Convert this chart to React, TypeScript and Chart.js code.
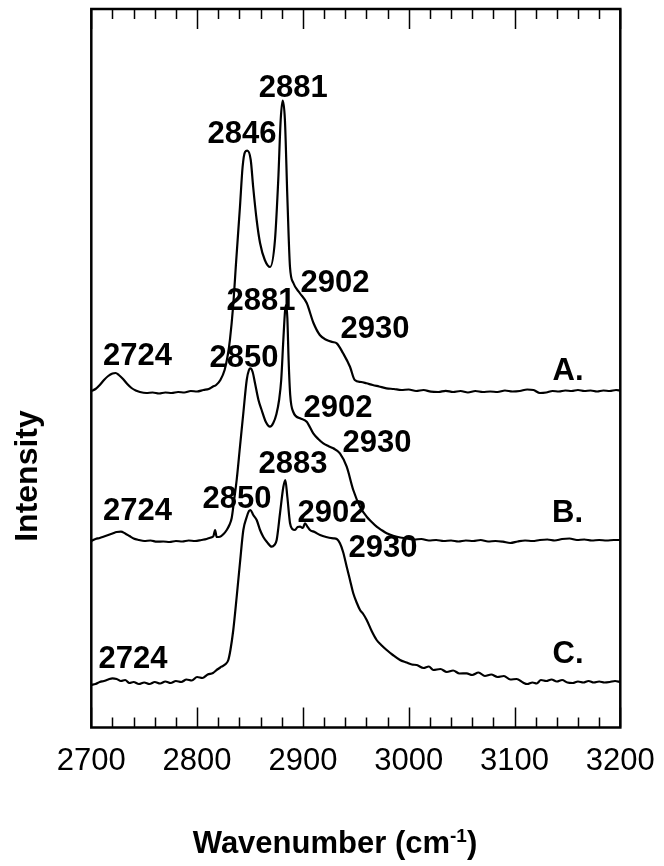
import React, { useEffect, useRef } from "react";
import { Chart, registerables } from "chart.js";

Chart.register(...registerables);

// ---- Spectrum A ----
const wnA = [2700, 2704, 2708, 2712, 2716, 2720, 2723, 2726, 2730, 2734, 2738, 2742, 2746, 2752, 2758, 2764, 2770, 2776, 2782, 2788, 2794, 2800, 2806, 2811, 2815, 2818, 2822, 2826, 2829, 2831, 2834, 2837, 2840.5, 2843, 2845.3, 2847.4, 2850.7, 2853, 2856.3, 2859.5, 2864, 2869, 2873.6, 2876.7, 2879, 2880.9, 2883, 2885.3, 2887.8, 2891, 2897, 2903.6, 2910, 2916, 2922.5, 2928, 2932, 2938, 2944.5, 2949, 2955, 2960, 2966, 2972, 2979, 2986, 2993, 3000, 3007, 3014, 3021, 3028, 3035, 3042, 3049, 3056, 3063, 3070, 3077, 3084, 3091, 3098, 3105, 3112, 3118, 3124, 3130, 3136, 3142, 3148, 3154, 3160, 3166, 3172, 3178, 3184, 3190, 3196, 3200];
const intA = [0, 2, 6, 11, 15, 17.5, 18, 16, 12, 7, 3, 0.5, -1, -2, -1.5, -2.5, -1.5, -2, -1, -1.5, 0, -0.5, 1, 2, 4.5, 6, 11, 21, 36, 51, 84, 131, 184, 224, 239, 240.3, 231, 204, 171, 148, 131, 124, 151, 211, 271, 290.3, 271, 194, 124, 108, 98, 88, 68, 56, 51, 49, 47.7, 37.7, 24.3, 11, 9, 7.7, 6, 4.5, 2.7, 2, 1, 1.5, 0, 1, -0.7, -1, 0.2, -1, 0, -1.5, 0, -1, -0.5, -1, 0.5, -0.5, 0, 1.5, 1, -2, -1.5, 0, -0.5, 0.5, 0, 1, 0, 0.5, -0.5, 0.5, 0, 1, 0.5];

// ---- Spectrum B ----
const wnB = [2700, 2704, 2708, 2712, 2716, 2720, 2724, 2728, 2732, 2736, 2740, 2745, 2750, 2756, 2762, 2768, 2774, 2780, 2786, 2792, 2798, 2804, 2809, 2813, 2815.5, 2817, 2818.5, 2821.6, 2825, 2828, 2830.5, 2832.7, 2835, 2837.4, 2840.5, 2843.7, 2846.9, 2849, 2850.5, 2852.5, 2854.7, 2858, 2861, 2865, 2868.9, 2872, 2875, 2877.5, 2879.5, 2881.5, 2883.2, 2884.2, 2885.3, 2886.5, 2888, 2890.9, 2897.3, 2903.6, 2909.8, 2914.5, 2919.3, 2924, 2928.7, 2935, 2941.4, 2947.6, 2954, 2960.3, 2965, 2969.7, 2975, 2979.2, 2986, 2992, 2998, 3005, 3012, 3019, 3026, 3033, 3040, 3047, 3054, 3061, 3068, 3075, 3082, 3089, 3096, 3103, 3110, 3117, 3124, 3131, 3138, 3145, 3152, 3159, 3166, 3173, 3180, 3187, 3194, 3200];
const intB = [-1, 1, 2, 3.5, 5, 6.5, 8, 8.3, 6.5, 4, 1.5, 0, -1, -0.5, -1.7, -1.5, -2, -1, -1.5, -0.5, -1, 0, 1, 2.5, 4, 10, 3, 3.3, 6, 10, 15, 22, 40, 60, 93, 127, 160, 170, 171.7, 168, 157, 140, 130, 118, 113.3, 117, 126, 140, 160, 200, 230, 235, 222, 180, 145, 128, 121.7, 118.3, 106.7, 101, 96.7, 94, 91.7, 86.7, 73.3, 50, 33.3, 23.3, 18, 13.3, 9.5, 6.7, 4, 2.5, 1.7, 0.5, 1, -0.5, 0, -1, -0.5, -1.5, -0.5, -1, 0, -1.5, -1, -1.7, -3, -1.5, -0.5, -1, 0, 0.5, -0.5, 1, 1.5, 0, 0.5, -0.5, 0, -0.5, 0, 0];

// ---- Spectrum C ----
const wnC = [2700, 2704, 2708, 2712, 2716, 2720, 2724, 2728, 2732, 2736, 2740, 2745, 2750, 2755, 2760, 2765, 2770, 2775, 2780, 2785, 2790, 2795, 2800, 2805, 2810, 2815, 2819, 2823, 2827, 2829.5, 2831.5, 2834.2, 2837.4, 2840.5, 2843.7, 2846.9, 2849, 2850.5, 2853.1, 2856.3, 2859.5, 2862.6, 2866, 2870.5, 2873, 2875.2, 2878.4, 2881.5, 2883.4, 2885.3, 2887.8, 2890, 2892.5, 2895, 2897.3, 2900, 2902, 2904.5, 2906.7, 2911, 2916.2, 2922, 2928.7, 2932, 2935, 2938, 2941.4, 2944.5, 2947.6, 2951, 2954, 2957, 2960.3, 2965, 2969.7, 2974, 2979.2, 2985, 2991.8, 2998, 3003, 3007.6, 3014, 3019, 3023.3, 3030, 3036, 3042, 3048, 3054.8, 3060, 3066, 3072, 3078, 3084, 3090, 3096, 3102, 3108, 3112, 3117, 3121, 3125, 3130, 3135, 3140, 3145, 3150, 3155, 3160, 3165, 3170, 3175, 3180, 3185, 3190, 3195, 3200];
const intC = [-5, -4, -2, -1, 0.5, 1.7, 1, -1, 0, -3, -2, -4, -2.5, -4, -2, -3.5, -1.5, -3, -1, -2, 0.5, -0.5, 3, 2, 5.5, 7, 10.5, 13.3, 16, 20, 30, 50, 83, 117, 150, 163, 169, 170, 165, 160, 150, 143, 138, 133.3, 135, 140, 167, 193, 200, 183, 157, 151, 150, 153, 153.3, 152, 156.7, 153, 150, 148, 145, 143, 141.7, 141, 136.7, 128, 113.3, 100, 86.7, 77, 70, 66, 60, 49, 40, 35, 30, 25, 20, 17.5, 15.5, 15, 12, 13.5, 10, 11, 8, 9.5, 6.5, 6.7, 5, 7.5, 4, 5.5, 3, 4, 0.5, 1, -2.5, -4, -2.5, -3.5, 0, -1, 0.5, -1.5, 0, -2.5, -3, -1.5, -2.5, -1, -2.5, -1.5, -2.5, -2, -1, -2];

// vertical offsets used to stack the spectra
const offsetA = 336.5;
const offsetB = 187.5;
const offsetC = 47.5;

const xMin = 2700;
const xMax = 3200;
const yMin = 0;
const yMax = 718.5;
const xMajorTicks = [2700, 2800, 2900, 3000, 3100, 3200];
const xMinorStep = 20;

const peakLabels = [
  { text: "2881", x: 2890.9, y: 631 },
  { text: "2846", x: 2842.4, y: 584.5 },
  { text: "2902", x: 2930.3, y: 435.5 },
  { text: "2930", x: 2968.1, y: 389.5 },
  { text: "2724", x: 2743.7, y: 362.5 },
  { text: "A.", x: 3150.6, y: 347.5 },
  { text: "2881", x: 2860.4, y: 417.5 },
  { text: "2850", x: 2844.3, y: 360.5 },
  { text: "2902", x: 2933.2, y: 310.5 },
  { text: "2930", x: 2970.0, y: 275.5 },
  { text: "2724", x: 2743.7, y: 207.5 },
  { text: "B.", x: 3150.1, y: 205.5 },
  { text: "2883", x: 2890.6, y: 254.5 },
  { text: "2850", x: 2837.7, y: 219.5 },
  { text: "2902", x: 2927.5, y: 205.5 },
  { text: "2930", x: 2975.7, y: 170.5 },
  { text: "2724", x: 2739.4, y: 59.5 },
  { text: "C.", x: 3150.6, y: 64.5 },
];

const FONT = '"Liberation Sans", Arial, Helvetica, sans-serif';

const W = 664;
const H = 866;

function toPoints(wn: number[], inten: number[], offset: number) {
  return wn.map((x, i) => ({ x, y: inten[i] + offset }));
}

const framePlugin = {
  id: "framePlugin",
  afterDraw(chart: any) {
    const { ctx, chartArea, scales } = chart;
    const xs = scales.x;
    const ys = scales.y;
    const { left, right, top, bottom } = chartArea;
    ctx.save();
    ctx.strokeStyle = "#000";
    ctx.fillStyle = "#000";

    // ticks
    ctx.lineWidth = 1.5;
    for (let v = xMin; v <= xMax + 0.001; v += xMinorStep) {
      const px = Math.round(xs.getPixelForValue(v)) + 0.5;
      const major = xMajorTicks.includes(v);
      const len = major ? 20 : 10;
      ctx.beginPath();
      ctx.moveTo(px, bottom);
      ctx.lineTo(px, bottom - len);
      ctx.moveTo(px, top);
      ctx.lineTo(px, top + len);
      ctx.stroke();
    }

    // frame
    ctx.lineWidth = 2.5;
    ctx.strokeRect(left, top, right - left, bottom - top);

    // tick labels
    ctx.font = `31px ${FONT}`;
    ctx.textAlign = "center";
    ctx.textBaseline = "alphabetic";
    xMajorTicks.forEach((v) => {
      ctx.fillText(String(v), xs.getPixelForValue(v), 770);
    });

    // peak annotations
    ctx.font = `bold 31px ${FONT}`;
    peakLabels.forEach((l) => {
      ctx.fillText(l.text, xs.getPixelForValue(l.x), ys.getPixelForValue(l.y));
    });

    // x title with superscript
    const big = `bold 31px ${FONT}`;
    const small = `bold 19px ${FONT}`;
    const p1 = "Wavenumber (cm";
    const p2 = "-1";
    const p3 = ")";
    ctx.font = big;
    const w1 = ctx.measureText(p1).width;
    const w3 = ctx.measureText(p3).width;
    ctx.font = small;
    const w2 = ctx.measureText(p2).width;
    const total = w1 + w2 + w3;
    let sx = 335 - total / 2;
    ctx.textAlign = "left";
    ctx.font = big;
    ctx.fillText(p1, sx, 853);
    sx += w1;
    ctx.font = small;
    ctx.fillText(p2, sx, 842);
    sx += w2;
    ctx.font = big;
    ctx.fillText(p3, sx, 853);

    // y title
    ctx.save();
    ctx.translate(36.5, 476);
    ctx.rotate(-Math.PI / 2);
    ctx.textAlign = "center";
    ctx.font = `bold 32px ${FONT}`;
    ctx.fillText("Intensity", 0, 0);
    ctx.restore();

    ctx.restore();
  },
};

export default function App() {
  const ref = useRef<HTMLCanvasElement | null>(null);

  useEffect(() => {
    if (!ref.current) return;
    const lineStyle = {
      borderColor: "#000",
      borderWidth: 2.2,
      pointRadius: 0,
      fill: false,
      cubicInterpolationMode: "monotone" as const,
    };
    const chart = new Chart(ref.current, {
      type: "line",
      data: {
        datasets: [
          { label: "A", data: toPoints(wnA, intA, offsetA), ...lineStyle },
          { label: "B", data: toPoints(wnB, intB, offsetB), ...lineStyle },
          { label: "C", data: toPoints(wnC, intC, offsetC), ...lineStyle },
        ],
      },
      options: {
        responsive: false,
        animation: false,
        devicePixelRatio: 1,
        layout: {
          padding: { left: 91.3, right: W - 620.3, top: 9, bottom: H - 727.5 },
        },
        plugins: {
          legend: { display: false },
          tooltip: { enabled: false },
        },
        scales: {
          x: { type: "linear", min: xMin, max: xMax, display: false },
          y: { type: "linear", min: yMin, max: yMax, display: false },
        },
      },
      plugins: [framePlugin],
    });
    return () => chart.destroy();
  }, []);

  return (
    <div style={{ position: "fixed", left: 0, top: 0, width: W, height: H, background: "#fff" }}>
      <canvas ref={ref} width={W} height={H} style={{ width: W, height: H, display: "block" }} />
    </div>
  );
}
